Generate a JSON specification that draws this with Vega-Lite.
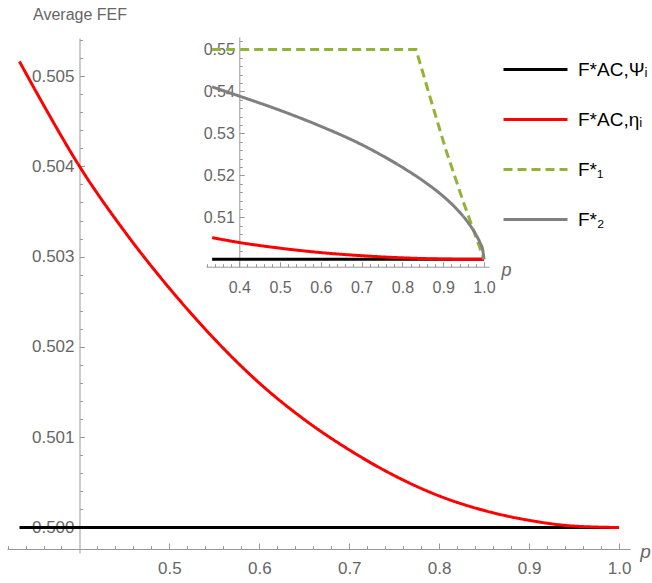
{
  "$schema": "https://vega.github.io/schema/vega-lite/v6.json",
  "width": 652,
  "height": 583,
  "autosize": "none",
  "padding": 0,
  "background": "white",
  "config": {
    "view": {"stroke": null},
    "axis": {
      "grid": false,
      "domainColor": "#999999",
      "tickColor": "#999999",
      "labelColor": "#666666",
      "titleColor": "#666666",
      "labelFont": "Liberation Sans",
      "titleFont": "Liberation Sans",
      "titleFontWeight": "normal",
      "domainWidth": 1,
      "tickWidth": 1
    }
  },
  "datasets": {
    "curves": [
      {"series": "psi", "p": 0.3333, "v": 0.5},
      {"series": "psi", "p": 1.0, "v": 0.5},
      {"series": "eta", "p": 0.3333, "v": 0.50516},
      {"series": "eta", "p": 0.36, "v": 0.50468},
      {"series": "eta", "p": 0.4, "v": 0.504},
      {"series": "eta", "p": 0.45, "v": 0.503281},
      {"series": "eta", "p": 0.5, "v": 0.50265},
      {"series": "eta", "p": 0.55, "v": 0.502088},
      {"series": "eta", "p": 0.6, "v": 0.5016},
      {"series": "eta", "p": 0.65, "v": 0.501196},
      {"series": "eta", "p": 0.7, "v": 0.50086},
      {"series": "eta", "p": 0.75, "v": 0.500576},
      {"series": "eta", "p": 0.8, "v": 0.50035},
      {"series": "eta", "p": 0.85, "v": 0.500189},
      {"series": "eta", "p": 0.9, "v": 0.50008},
      {"series": "eta", "p": 0.95, "v": 0.500016},
      {"series": "eta", "p": 1.0, "v": 0.5},
      {"series": "F1", "p": 0.3333, "v": 0.55},
      {"series": "F1", "p": 0.8333, "v": 0.55},
      {"series": "F1", "p": 0.87, "v": 0.5379},
      {"series": "F1", "p": 0.9068, "v": 0.526},
      {"series": "F1", "p": 0.95, "v": 0.5135},
      {"series": "F1", "p": 1.0, "v": 0.5},
      {"series": "F2", "p": 0.3333, "v": 0.5411},
      {"series": "F2", "p": 0.4, "v": 0.5389},
      {"series": "F2", "p": 0.5, "v": 0.5355},
      {"series": "F2", "p": 0.6, "v": 0.53169},
      {"series": "F2", "p": 0.7, "v": 0.52733},
      {"series": "F2", "p": 0.75, "v": 0.52475},
      {"series": "F2", "p": 0.8, "v": 0.52191},
      {"series": "F2", "p": 0.85, "v": 0.51875},
      {"series": "F2", "p": 0.9, "v": 0.51502},
      {"series": "F2", "p": 0.93, "v": 0.5123},
      {"series": "F2", "p": 0.96, "v": 0.5089},
      {"series": "F2", "p": 0.98, "v": 0.50594},
      {"series": "F2", "p": 0.99, "v": 0.504},
      {"series": "F2", "p": 0.997, "v": 0.50214},
      {"series": "F2", "p": 1.0, "v": 0.5}
    ]
  },
  "data": {"name": "curves"},
  "layer": [
    {
      "transform": [{"filter": "datum.series == 'psi' || datum.series == 'eta'"}],
      "layer": [
        {
          "mark": {"type": "line", "strokeWidth": 3, "interpolate": "monotone"},
          "encoding": {
            "x": {
              "field": "p", "type": "quantitative",
              "scale": {"domain": [0.3194, 1.0122], "range": [7, 630], "nice": false, "zero": false},
              "axis": {
                "orient": "bottom", "offset": -34,
                "values": [0.5, 0.6, 0.7, 0.8, 0.9, 1.0], "format": ".1f",
                "tickSize": -6, "labelPadding": 17, "labelFontSize": 17,
                "title": "p", "titleFontStyle": "italic", "titleFontSize": 19,
                "titleX": 645, "titleY": 8, "titleAlign": "center", "titleBaseline": "alphabetic", "titleAngle": 0
              }
            },
            "y": {
              "field": "v", "type": "quantitative",
              "scale": {"domain": [0.499718, 0.505421], "range": [553, 38], "nice": false, "zero": false},
              "axis": {
                "orient": "left", "offset": -79.5,
                "values": [0.5, 0.501, 0.502, 0.503, 0.504, 0.505], "format": ".3f",
                "tickSize": -5, "labelPadding": 10.5, "labelFontSize": 17,
                "title": "Average FEF", "titleFontSize": 16, "titleAngle": 0,
                "titleX": 0, "titleY": 19, "titleAlign": "center", "titleBaseline": "alphabetic"
              }
            },
            "color": {
              "field": "series", "type": "nominal",
              "scale": {"domain": ["psi", "eta", "F1", "F2"], "range": ["#000000", "#ff0000", "#92b335", "#808080"]},
              "legend": {
                "orient": "none", "legendX": 523, "legendY": 57, "title": null,
                "symbolType": "M-3,0H3", "symbolSize": 455, "symbolStrokeWidth": 3,
                "labelFontSize": 19, "labelFont": "Liberation Sans", "labelColor": "#000000",
                "labelOffset": 30, "rowPadding": 27,
                "labelExpr": "datum.label == 'psi' ? 'F*AC,Ψᵢ' : datum.label == 'eta' ? 'F*AC,ηᵢ' : datum.label == 'F1' ? 'F*₁' : 'F*₂'"
              }
            },
            "strokeDash": {
              "field": "series", "type": "nominal",
              "scale": {"domain": ["psi", "eta", "F1", "F2"], "range": [[1, 0], [1, 0], [9, 5], [1, 0]]}
            }
          }
        },
        {
          "mark": {"type": "line", "opacity": 0},
          "encoding": {
            "x": {
              "field": "p", "type": "quantitative",
              "axis": {
                "orient": "bottom", "offset": -34, "labels": false, "domain": false, "title": null,
                "tickSize": -3.5,
                "values": [0.32, 0.34, 0.36, 0.38, 0.42, 0.44, 0.46, 0.48, 0.52, 0.54, 0.56, 0.58, 0.62, 0.64, 0.66, 0.68, 0.72, 0.74, 0.76, 0.78, 0.82, 0.84, 0.86, 0.88, 0.92, 0.94, 0.96, 0.98]
              }
            },
            "y": {
              "field": "v", "type": "quantitative",
              "axis": {
                "orient": "left", "offset": -79.5, "labels": false, "domain": false, "title": null,
                "tickSize": -3,
                "values": [0.5002, 0.5004, 0.5006, 0.5008, 0.5012, 0.5014, 0.5016, 0.5018, 0.5022, 0.5024, 0.5026, 0.5028, 0.5032, 0.5034, 0.5036, 0.5038, 0.5042, 0.5044, 0.5046, 0.5048, 0.5052, 0.5054]
              }
            }
          }
        }
      ],
      "resolve": {"axis": {"x": "independent", "y": "independent"}}
    },
    {
      "layer": [
        {
          "transform": [{"filter": "datum.series == 'psi' || datum.series == 'eta'"}],
          "mark": {"type": "line", "strokeWidth": 3, "interpolate": "monotone"},
          "encoding": {
            "x": {
              "field": "p", "type": "quantitative",
              "scale": {"domain": [0.3183, 1.0123], "range": [206, 489], "nice": false, "zero": false},
              "axis": {
                "orient": "bottom", "offset": -316.3,
                "values": [0.4, 0.5, 0.6, 0.7, 0.8, 0.9, 1.0], "format": ".1f",
                "tickSize": -5, "labelPadding": 18, "labelFontSize": 16,
                "title": "p", "titleFontStyle": "italic", "titleFontSize": 18,
                "titleX": 506, "titleY": 9, "titleAlign": "center", "titleBaseline": "alphabetic", "titleAngle": 0
              }
            },
            "y": {
              "field": "v", "type": "quantitative",
              "scale": {"domain": [0.49824, 0.55298], "range": [266.7, 37], "nice": false, "zero": false},
              "axis": {
                "orient": "left", "offset": -239.3,
                "values": [0.5, 0.51, 0.52, 0.53, 0.54, 0.55],
                "labelExpr": "datum.value < 0.505 ? '' : format(datum.value, '.2f')",
                "tickSize": -5, "labelPadding": 10, "labelFontSize": 16, "title": null
              }
            },
            "color": {"field": "series", "type": "nominal"},
            "strokeDash": {"field": "series", "type": "nominal"}
          }
        },
        {
          "transform": [{"filter": "datum.series == 'F1'"}],
          "mark": {"type": "line", "strokeWidth": 3, "interpolate": "linear"},
          "encoding": {
            "x": {"field": "p", "type": "quantitative", "axis": null},
            "y": {"field": "v", "type": "quantitative", "axis": null},
            "color": {"field": "series", "type": "nominal"},
            "strokeDash": {"field": "series", "type": "nominal"}
          }
        },
        {
          "transform": [{"filter": "datum.series == 'F2'"}],
          "mark": {"type": "line", "strokeWidth": 3, "interpolate": "monotone"},
          "encoding": {
            "x": {"field": "p", "type": "quantitative", "axis": null},
            "y": {"field": "v", "type": "quantitative", "axis": null},
            "color": {"field": "series", "type": "nominal"},
            "strokeDash": {"field": "series", "type": "nominal"}
          }
        },
        {
          "mark": {"type": "line", "opacity": 0},
          "encoding": {
            "x": {
              "field": "p", "type": "quantitative",
              "axis": {
                "orient": "bottom", "offset": -316.3, "labels": false, "domain": false, "title": null,
                "tickSize": -3,
                "values": [0.32, 0.34, 0.36, 0.38, 0.42, 0.44, 0.46, 0.48, 0.52, 0.54, 0.56, 0.58, 0.62, 0.64, 0.66, 0.68, 0.72, 0.74, 0.76, 0.78, 0.82, 0.84, 0.86, 0.88, 0.92, 0.94, 0.96, 0.98]
              }
            },
            "y": {
              "field": "v", "type": "quantitative",
              "axis": {
                "orient": "left", "offset": -239.3, "labels": false, "domain": false, "title": null,
                "tickSize": -3,
                "values": [0.502, 0.504, 0.506, 0.508, 0.512, 0.514, 0.516, 0.518, 0.522, 0.524, 0.526, 0.528, 0.532, 0.534, 0.536, 0.538, 0.542, 0.544, 0.546, 0.548, 0.552]
              }
            }
          }
        }
      ],
      "resolve": {"axis": {"x": "independent", "y": "independent"}}
    }
  ],
  "resolve": {"scale": {"x": "independent", "y": "independent"}}
}
